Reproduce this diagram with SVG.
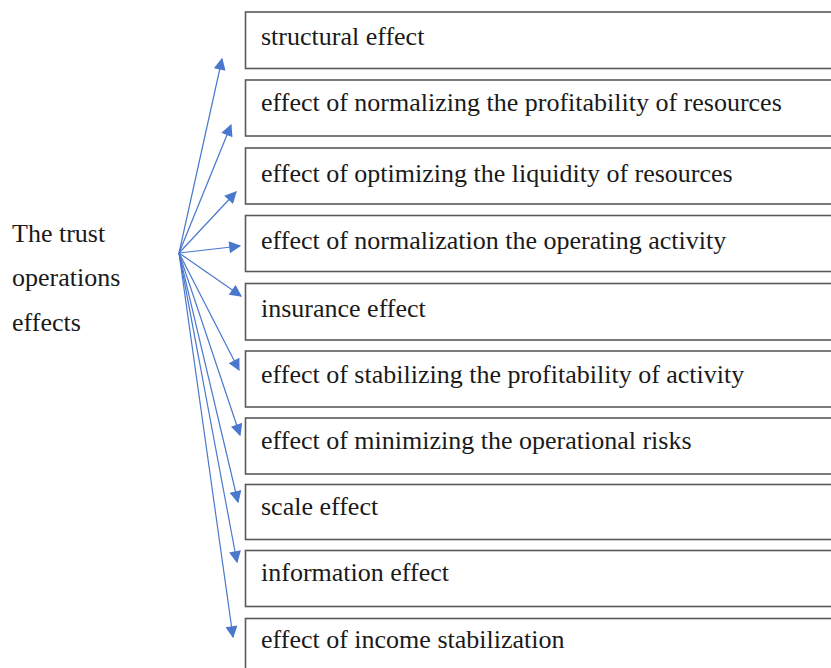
<svg xmlns="http://www.w3.org/2000/svg" width="831" height="668" viewBox="0 0 831 668">
  <style>
    .box rect { fill: #ffffff; stroke: #5a5a5a; stroke-width: 1.6; }
    .box text, .label { font-family: "Liberation Serif", "Times New Roman", serif; font-size: 26px; fill: #1a1a1a; }
    .conn line { stroke: #4a78cc; stroke-width: 1.2; fill: none; }
  </style>
  <defs>
    <marker id="arrow" viewBox="0 0 10 10" refX="9" refY="5" markerWidth="14" markerHeight="12" markerUnits="userSpaceOnUse" orient="auto">
      <path d="M0,0 L10,5 L0,10 z" fill="#4a78cc"/>
    </marker>
  </defs>
  <rect width="831" height="668" fill="#ffffff"/>

  <g id="source">
    <text class="label" x="12" y="242">The trust</text>
    <text class="label" x="12" y="286">operations</text>
    <text class="label" x="12" y="331">effects</text>
  </g>

  <!-- fan of arrows from the source label to each effect box -->
  <g class="conn" id="connectors">
    <line x1="179" y1="253" x2="222" y2="59" marker-end="url(#arrow)"/>
    <line x1="179" y1="253" x2="231" y2="125" marker-end="url(#arrow)"/>
    <line x1="179" y1="253" x2="236" y2="192" marker-end="url(#arrow)"/>
    <line x1="179" y1="253" x2="240" y2="246" marker-end="url(#arrow)"/>
    <line x1="179" y1="253" x2="241" y2="296" marker-end="url(#arrow)"/>
    <line x1="179" y1="253" x2="239" y2="370" marker-end="url(#arrow)"/>
    <line x1="179" y1="253" x2="240" y2="435" marker-end="url(#arrow)"/>
    <line x1="179" y1="253" x2="238" y2="502" marker-end="url(#arrow)"/>
    <line x1="179" y1="253" x2="237" y2="562" marker-end="url(#arrow)"/>
    <line x1="179" y1="253" x2="233" y2="637" marker-end="url(#arrow)"/>
  </g>

  <g id="n1" class="box"><rect x="245.5" y="12" width="600" height="56.5"/><text x="261" y="45">structural effect</text></g>
  <g id="n2" class="box"><rect x="245.5" y="80" width="600" height="56"/><text x="261" y="111">effect of normalizing the profitability of resources</text></g>
  <g id="n3" class="box"><rect x="245.5" y="148" width="600" height="56"/><text x="261" y="182">effect of optimizing the liquidity of resources</text></g>
  <g id="n4" class="box"><rect x="245.5" y="215.5" width="600" height="56"/><text x="261" y="249">effect of normalization the operating activity</text></g>
  <g id="n5" class="box"><rect x="245.5" y="283.5" width="600" height="56.5"/><text x="261" y="317">insurance effect</text></g>
  <g id="n6" class="box"><rect x="245.5" y="351" width="600" height="56"/><text x="261" y="383">effect of stabilizing the profitability of activity</text></g>
  <g id="n7" class="box"><rect x="245.5" y="418" width="600" height="56"/><text x="261" y="449">effect of minimizing the operational risks</text></g>
  <g id="n8" class="box"><rect x="245.5" y="484.5" width="600" height="55"/><text x="261" y="515">scale effect</text></g>
  <g id="n9" class="box"><rect x="245.5" y="550.5" width="600" height="56"/><text x="261" y="581">information effect</text></g>
  <g id="n10" class="box"><rect x="245.5" y="618.5" width="600" height="56"/><text x="261" y="648">effect of income stabilization</text></g>
</svg>
